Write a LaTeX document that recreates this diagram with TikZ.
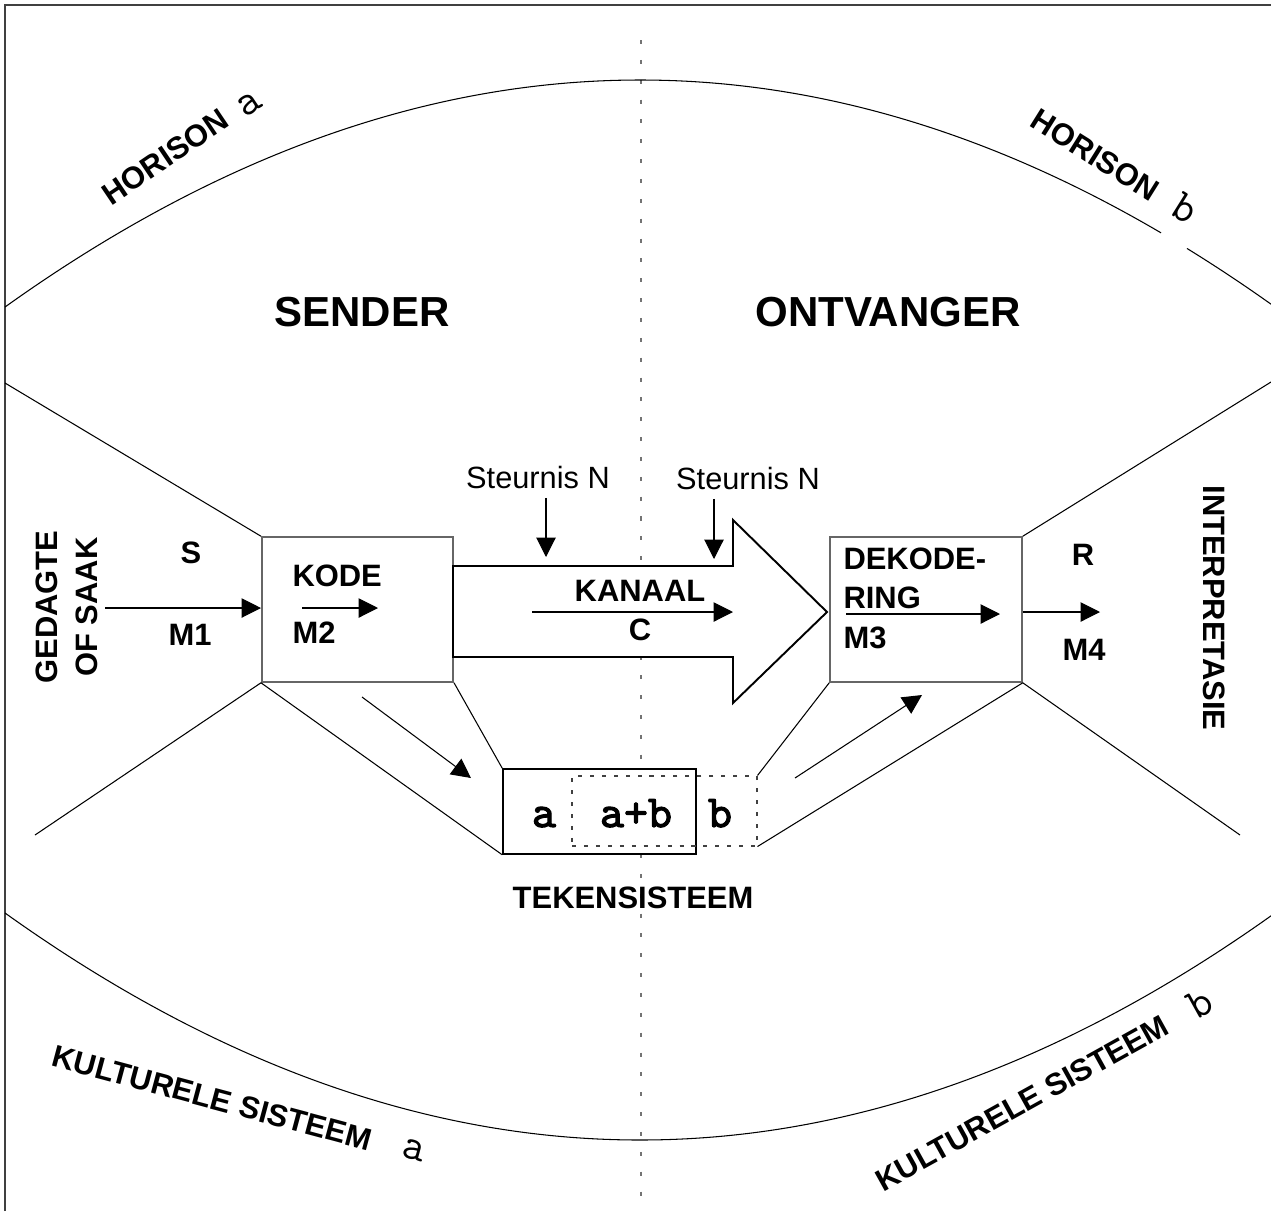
\documentclass[tikz,border=0pt]{standalone}
\usepackage{fontspec}
\setmainfont{Liberation Sans}
\newfontfamily\vetmono{lmmono10-regular.otf}[FakeBold=2.5]
\usetikzlibrary{arrows.meta}

\begin{document}
\begin{tikzpicture}[
    x = 0.02cm,
    y = -0.02cm,
    line width = 0.6pt,
    >={Triangle[length=11pt, width=11pt]},
    ]

    \tikzstyle{every node}=[inner sep = 0pt]
    \tikzstyle{kop}=[font = \fontsize{23.9}{28}\selectfont\bfseries]
    \tikzstyle{etiket}=[font = \fontsize{17.6}{22.6}\selectfont\bfseries]
    \tikzstyle{gewoon}=[font = \fontsize{17.5}{21}\selectfont]
    \tikzstyle{letter}=[font = \fontsize{25}{29}\selectfont\ttfamily]
    \tikzstyle{vetletter}=[font = \fontsize{26}{30}\selectfont\vetmono]
    \tikzstyle{blok}=[draw = black!60, line width = 0.9pt, minimum width = 3.83cm, minimum height = 2.9cm]
    \tikzstyle{stippel}=[draw = black!75, dash pattern = on 2.3pt off 4.5pt]

    \useasboundingbox (0,0) rectangle (1271,1211);

    % raam en middellyn
    \draw[black!75, line width = 0.9pt] (5,1211) -- (5,5) -- (1271,5);
    \draw[black!55, dash pattern = on 2.3pt off 9pt] (641,40) -- (641,1200);

    % horisonne
    \draw plot[domain=5:1161, samples=120] (\x, {80 + 5.63*((\x-640)/100)*((\x-640)/100)});
    \draw plot[domain=1187:1271, samples=20] (\x, {80 + 5.63*((\x-640)/100)*((\x-640)/100)});
    \draw plot[domain=5:1271, samples=140] (\x, {1140 - 5.63*((\x-640)/100)*((\x-640)/100)});

    \node[etiket, rotate=34] (hora) at (165,157) {HORISON};
    \node[letter, rotate=34] (hora2) at (250,104) {a};
    \node[etiket, rotate=-32] (horb) at (1095,155) {HORISON};
    \node[letter, rotate=-32] (horb2) at (1185,208) {b};
    \node[etiket, rotate=-15] (kula) at (212,1098) {KULTURELE SISTEEM};
    \node[letter, rotate=-15] (kula2) at (414,1150) {a};
    \node[etiket, rotate=29] (kulb) at (1022,1103) {KULTURELE SISTEEM};
    \node[letter, rotate=29] (kulb2) at (1200,1003) {b};

    \node[kop] (sender) at (362,312) {SENDER};
    \node[kop] (ontv) at (888,312) {ONTVANGER};

    % kassies
    \node[blok] (kode) at (357.5,609.5) {};
    \node[blok, minimum width = 3.84cm] (dekod) at (926,609.5) {};
    \node[draw, fill = white, line width = 0.9pt, minimum width = 3.86cm, minimum height = 1.7cm] (teken) at (599.5,811.5) {};
    \node[stippel, minimum width = 3.7cm, minimum height = 1.4cm] (tekenb) at (664.5,811) {};

    \coordinate (lo) at (5,383);
    \coordinate (lu) at (35,835);
    \coordinate (ro) at (1271,382);
    \coordinate (ru) at (1240,835);

    \draw (lo) -- (kode.north west);
    \draw (lu) -- (kode.south west);
    \draw (kode.south west) -- (teken.south west);
    \draw (kode.south east) -- (teken.north west);
    \draw (dekod.south west) -- (tekenb.north east);
    \draw (dekod.south east) -- (tekenb.south east);
    \draw (dekod.north east) -- (ro);
    \draw (dekod.south east) -- (ru);

    % kanaal
    \draw[fill = white, line width = 1.1pt] (453,566) -- (733,566) -- (733,520) -- (827,612)
        -- (733,703) -- (733,657) -- (453,657) -- cycle;

    \node[etiket, rotate=90, align=center] (gedagte) at (67,607) {GEDAGTE\\OF SAAK};
    \node[etiket] (s) at (191,553) {S};
    \node[etiket] (m1) at (190,635) {M1};
    \node[etiket, anchor=west] (kodetxt) at (292,576) {KODE};
    \node[etiket, anchor=west] (m2) at (292,633) {M2};
    \node[gewoon] (steur1) at (538,477) {Steurnis N};
    \node[gewoon] (steur2) at (748,478) {Steurnis N};
    \node[etiket] (kanaal) at (640,591) {KANAAL};
    \node[etiket] (c) at (640,630) {C};
    \node[etiket, anchor=north west, align=left] (dekodtxt) at (843,547) {DEKODE-\\RING\\M3};
    \node[etiket] (r) at (1083,555) {R};
    \node[etiket] (m4) at (1084,650) {M4};
    \node[etiket, rotate=-90] (interp) at (1214,608) {INTERPRETASIE};
    \node[etiket] (tekentxt) at (633,898) {TEKENSISTEEM};
    \node[vetletter, anchor=base] (la) at (544,827) {a};
    \node[vetletter, anchor=base] (lab) at (636,827) {a+b};
    \node[vetletter, anchor=base] (lb) at (720,827) {b};

    % pyle
    \coordinate (m1s) at (105,608);
    \coordinate (m2s) at (302,608);
    \coordinate (m2e) at (378,608);
    \coordinate (cs) at (532,612);
    \coordinate (ce) at (733,612);
    \coordinate (n1) at (546,557);
    \coordinate (n2) at (714,559);
    \coordinate (m3s) at (846,614);
    \coordinate (m3e) at (1000,614);
    \coordinate (m4e) at (1100,612);
    \coordinate (pl1) at (362,697);
    \coordinate (pl2) at (471,778);
    \coordinate (pr1) at (795,778);
    \coordinate (pr2) at (922,695);

    \draw[->] (m1s) -- (m1s -| kode.west);
    \draw[->] (m2s) -- (m2e);
    \draw[->] (cs) -- (ce);
    \draw[->] (n1 |- steur1.south) ++(0,9) -- (n1);
    \draw[->] (n2 |- steur2.south) ++(0,9) -- (n2);
    \draw[->] (m3s) -- (m3e);
    \draw[->] (m4e -| dekod.east) -- (m4e);
    \draw[->] (pl1) -- (pl2);
    \draw[->] (pr1) -- (pr2);
\end{tikzpicture}
\end{document}
